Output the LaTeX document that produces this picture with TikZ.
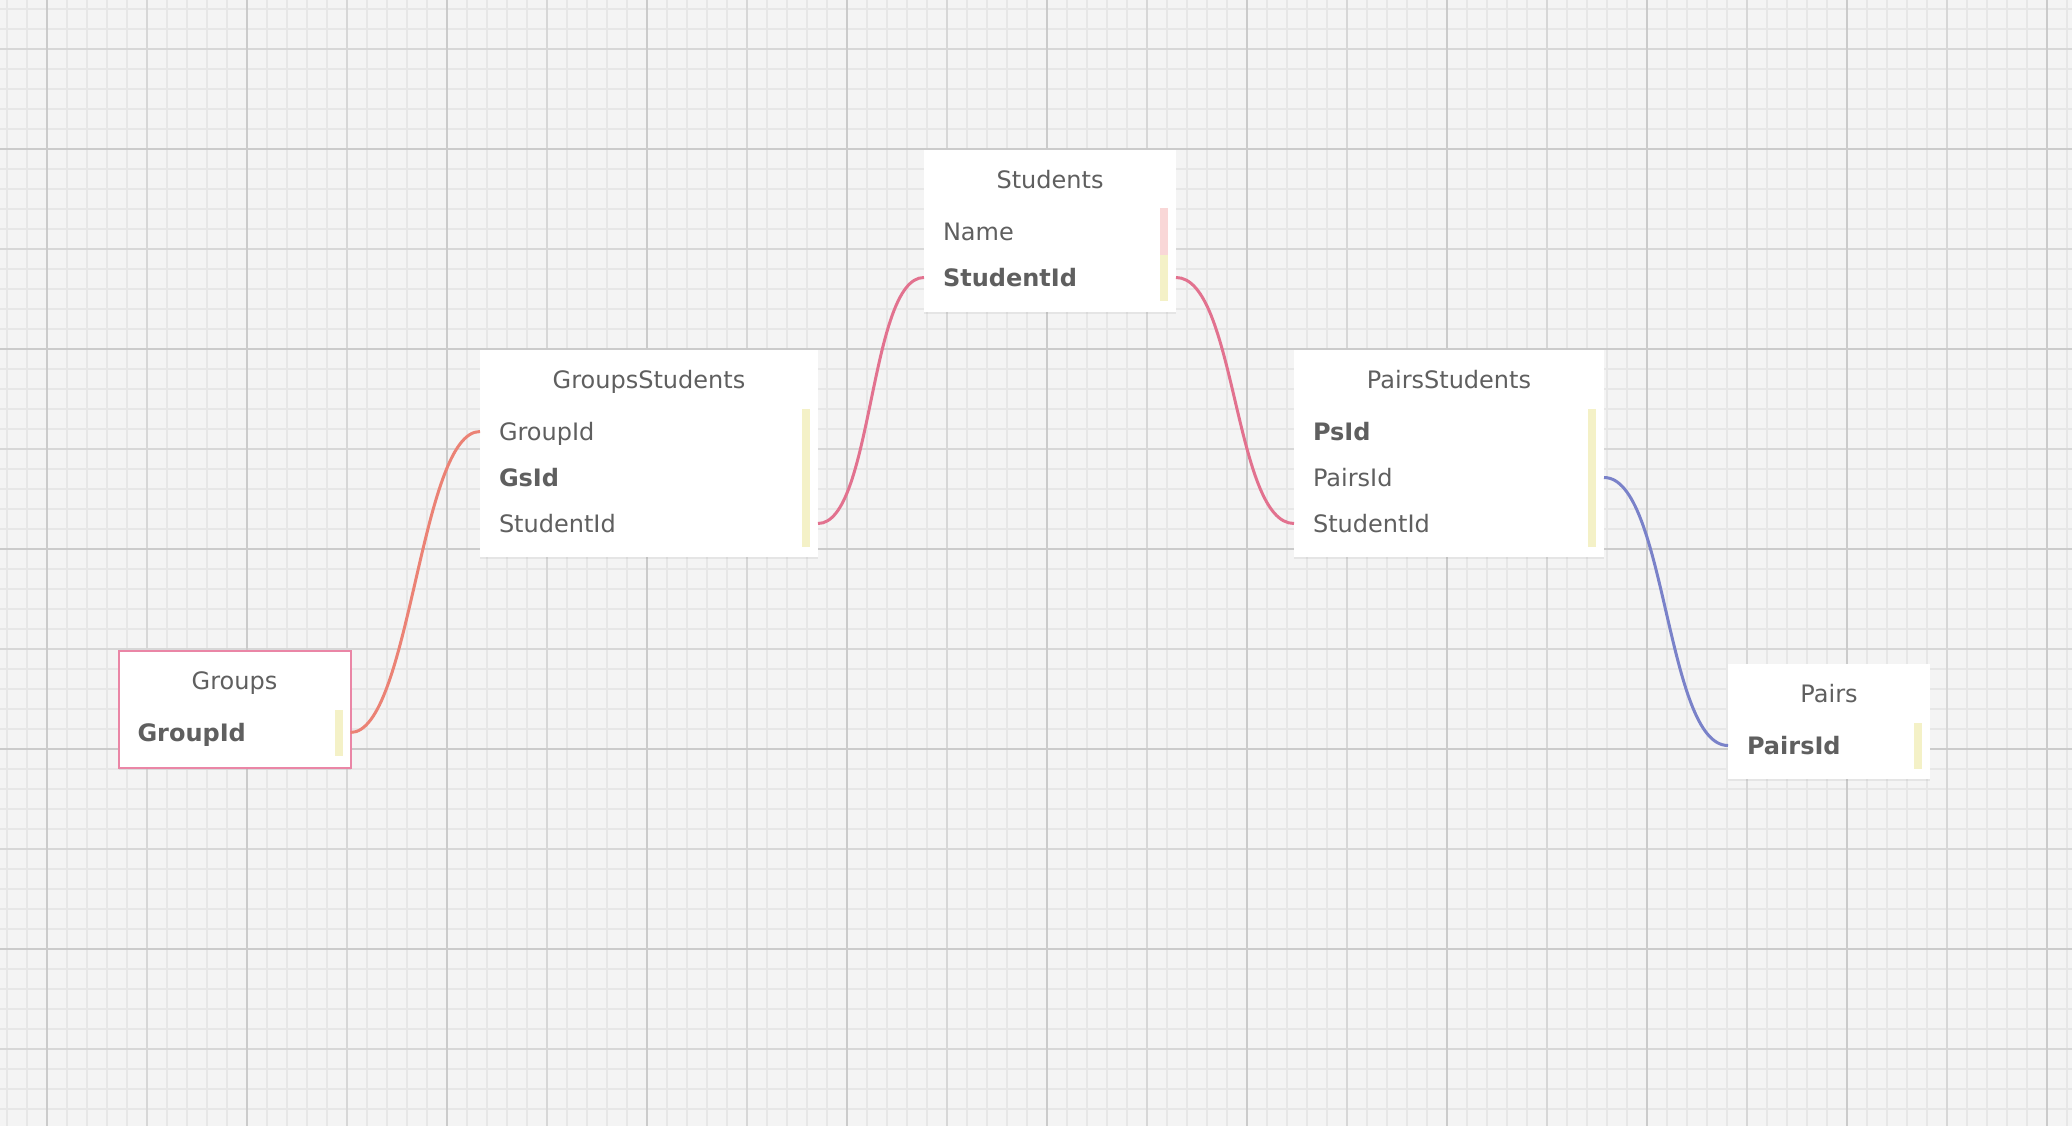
\documentclass[tikz,border=0pt]{standalone}
\usepackage{fontspec}
\setmainfont{DejaVu Sans}
\usetikzlibrary{positioning,shadows}

\definecolor{gridbg}{HTML}{F4F4F4}
\definecolor{gridminor}{HTML}{E7E7E7}
\definecolor{gridmajor}{HTML}{D7D7D7}
\definecolor{gridmajordark}{HTML}{CBCBCB}
\definecolor{textgrey}{HTML}{5F5F5F}
\definecolor{keyyellow}{HTML}{F4F1C7}
\definecolor{keypink}{HTML}{F9D7D7}
\definecolor{linksalmon}{HTML}{EB8275}
\definecolor{linkpink}{HTML}{E2728F}
\definecolor{linkblue}{HTML}{7A82C9}
\definecolor{framepink}{HTML}{EA86A6}

\newcommand\tablefont{\fontsize{24pt}{28pt}\selectfont}

\tikzset{
    minorline/.style={gridminor, line width=2pt},
    majorline/.style={gridmajor, line width=2pt},
    darkline/.style={gridmajordark, line width=2pt},
    tablebox/.style={fill=white, anchor=north west, inner sep=0pt, outer sep=0pt,
        drop shadow={shadow xshift=0pt, shadow yshift=-2pt, opacity=0.12}},
    title/.style={font=\tablefont, text=textgrey, inner sep=0pt, text height=17.5pt, text depth=0pt},
    field/.style={font=\tablefont, text=textgrey, text width=#1, align=left,
        inner xsep=19pt, inner ysep=0pt, outer sep=0pt, minimum height=46pt,
        text height=17.5pt, text depth=0pt},
    keyfield/.style={field=#1, font=\tablefont\bfseries},
    link/.style={line width=3pt}
}

\begin{document}
\begin{tikzpicture}[x=1pt, y=-1pt, node distance=0pt]
    \useasboundingbox (0,0) rectangle (2072,1126);
    \fill[gridbg] (0,0) rectangle (2072,1126);
    \foreach \x in {6.7,26.7,...,2072} \draw[minorline] (\x,0) -- (\x,1126);
    \foreach \y in {8.7,28.7,...,1126} \draw[minorline] (0,\y) -- (2072,\y);
    \foreach \x in {146.7,346.7,...,2072} \draw[majorline] (\x,0) -- (\x,1126);
    \foreach \y in {48.7,248.7,...,1126} \draw[majorline] (0,\y) -- (2072,\y);
    \foreach \x in {46.7,246.7,...,2072} \draw[darkline] (\x,0) -- (\x,1126);
    \foreach \y in {148.7,348.7,...,1126} \draw[darkline] (0,\y) -- (2072,\y);

    \node[tablebox, draw=framepink, line width=2pt, minimum width=232, minimum height=117] (groups) at (118.5,651) {};
    \node[title] (groups-title) at ([yshift=-30]groups.north) {Groups};
    \node[keyfield=194pt] (groups-id) at ([yshift=-81.5]groups.north) {GroupId};

    \node[tablebox, minimum width=338, minimum height=207] (gs) at (480,350) {};
    \node[title] (gs-title) at ([yshift=-30]gs.north) {GroupsStudents};
    \node[field=300pt] (gs-groupid) at ([yshift=-81.5]gs.north) {GroupId};
    \node[keyfield=300pt, below=of gs-groupid] (gs-id) {GsId};
    \node[field=300pt, below=of gs-id] (gs-studentid) {StudentId};

    \node[tablebox, minimum width=252, minimum height=162] (students) at (924,150) {};
    \node[title] (students-title) at ([yshift=-30]students.north) {Students};
    \node[field=214pt] (students-name) at ([yshift=-81.5]students.north) {Name};
    \node[keyfield=214pt, below=of students-name] (students-id) {StudentId};

    \node[tablebox, minimum width=310, minimum height=207] (ps) at (1294,350) {};
    \node[title] (ps-title) at ([yshift=-30]ps.north) {PairsStudents};
    \node[keyfield=272pt] (ps-id) at ([yshift=-81.5]ps.north) {PsId};
    \node[field=272pt, below=of ps-id] (ps-pairsid) {PairsId};
    \node[field=272pt, below=of ps-pairsid] (ps-studentid) {StudentId};

    \node[tablebox, minimum width=202, minimum height=115] (pairs) at (1728,664) {};
    \node[title] (pairs-title) at ([yshift=-30]pairs.north) {Pairs};
    \node[keyfield=164pt] (pairs-id) at ([yshift=-81.5]pairs.north) {PairsId};

    \fill[keyyellow] ([xshift=-16]groups-id.north east) rectangle ([xshift=-8]groups-id.south east);
    \fill[keyyellow] ([xshift=-16]gs-groupid.north east) rectangle ([xshift=-8]gs-studentid.south east);
    \fill[keypink] ([xshift=-16]students-name.north east) rectangle ([xshift=-8]students-name.south east);
    \fill[keyyellow] ([xshift=-16]students-id.north east) rectangle ([xshift=-8]students-id.south east);
    \fill[keyyellow] ([xshift=-16]ps-id.north east) rectangle ([xshift=-8]ps-studentid.south east);
    \fill[keyyellow] ([xshift=-16]pairs-id.north east) rectangle ([xshift=-8]pairs-id.south east);

    \draw[link, linksalmon] (groups-id.east) .. controls +(60,0) and +(-60,0) .. (gs-groupid.west);
    \draw[link, linkpink] (gs-studentid.east) .. controls +(55,0) and +(-55,0) .. (students-id.west);
    \draw[link, linkpink] (students-id.east) .. controls +(60,0) and +(-60,0) .. (ps-studentid.west);
    \draw[link, linkblue] (ps-pairsid.east) .. controls +(62,0) and +(-62,0) .. (pairs-id.west);
\end{tikzpicture}
\end{document}
